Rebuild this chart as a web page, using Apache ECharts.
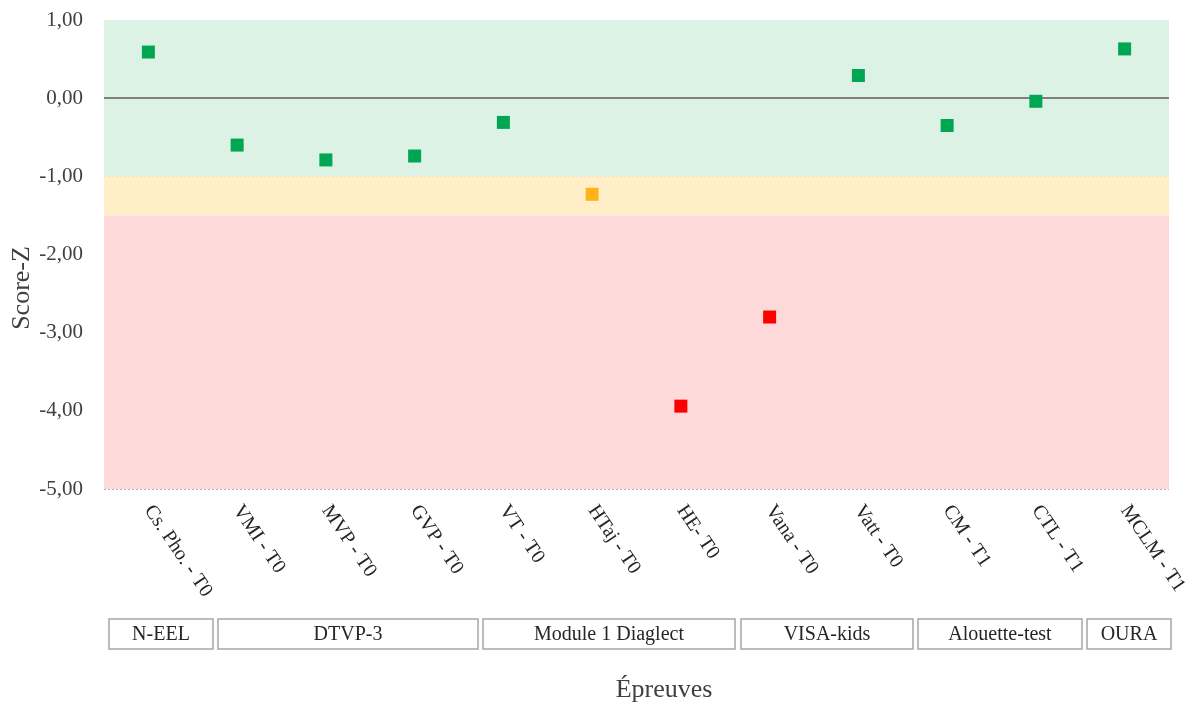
<!DOCTYPE html>
<html>
<head>
<meta charset="utf-8">
<script src="https://cdn.jsdelivr.net/npm/echarts@6/dist/echarts.min.js"></script>
<style>html,body{margin:0;padding:0;background:#fff}#c{width:1193px;height:702px}</style>
</head>
<body>
<div id="c"></div>
<script>
var categories = ['Cs. Pho. - T0','VMI - T0','MVP - T0','GVP - T0','VT - T0','HTaj - T0','HE- T0','Vana - T0','Vatt - T0','CM - T1','CTL - T1','MCLM - T1'];
var scores = [0.59,-0.60,-0.79,-0.74,-0.31,-1.23,-3.94,-2.80,0.29,-0.35,-0.04,0.63];
var yTicks = [1,0,-1,-2,-3,-4,-5];
var groupNames = ['N-EEL','DTVP-3','Module 1 Diaglect','VISA-kids','Alouette-test','OURA'];
var bandLimits = [1,-1,-1.5,-5];

var FONT = '"Liberation Serif","Times New Roman",serif';
var chart = echarts.init(document.getElementById('c'));

function ptColor(v){ return v >= -1 ? '#00A651' : (v >= -1.5 ? '#FFB31A' : '#FF0000'); }

// group box layout (pixel positions of the drawn label boxes)
var boxX = [[109,213],[218,478],[483,735],[741,913],[918,1082],[1087,1171]];
var graphics = [];
groupNames.forEach(function(n,i){
  var x0 = boxX[i][0], x1 = boxX[i][1];
  graphics.push({type:'rect', shape:{x:x0,y:619,width:x1-x0,height:30},
    style:{fill:'#fff',stroke:'#A6A6A6',lineWidth:1.5}});
  graphics.push({type:'text', x:(x0+x1)/2, y:635,
    style:{text:n,fill:'#262626',font:'20px '+FONT,textAlign:'center',textVerticalAlign:'middle'}});
});
graphics.push({type:'text', x:664, y:690, style:{text:'Épreuves', fill:'#404040', font:'26px '+FONT, textAlign:'center', textVerticalAlign:'middle'}});
graphics.push({type:'text', x:22, y:288, rotation:Math.PI/2, style:{text:'Score-Z', fill:'#404040', font:'26px '+FONT, textAlign:'center', textVerticalAlign:'middle'}});

chart.setOption({
  animation:false,
  grid:{left:104,right:24,top:20,bottom:213,containLabel:false},
  xAxis:{type:'category',data:categories,
    axisLine:{show:false},axisTick:{show:false},
    axisLabel:{rotate:-56,interval:0,margin:18,color:'#262626',fontFamily:FONT,fontSize:20}},
  yAxis:{type:'value',min:-5,max:1,interval:1,
    axisLine:{show:false},axisTick:{show:false},
    axisLabel:{margin:21,color:'#404040',fontFamily:FONT,fontSize:21,
      formatter:function(v){return v.toFixed(2).replace('.',',');}},
    splitLine:{show:true,lineStyle:{color:'#B5B5B5',type:[2,2],width:1}}},
  graphic:graphics,
  series:[{
    type:'scatter',symbol:'rect',symbolSize:13,z:5,
    data:scores,
    itemStyle:{opacity:1,color:function(p){return ptColor(p.value);}},
    markArea:{silent:true,z:1,itemStyle:{opacity:1},data:[
      [{yAxis:bandLimits[0],itemStyle:{color:'#DCF2E4'}},{yAxis:bandLimits[1]}],
      [{yAxis:bandLimits[1],itemStyle:{color:'#FFEEC6'}},{yAxis:bandLimits[2]}],
      [{yAxis:bandLimits[2],itemStyle:{color:'#FDDAD9'}},{yAxis:bandLimits[3]}]
    ]},
    markLine:{silent:true,symbol:'none',label:{show:false},
      lineStyle:{color:'#7F7F7F',type:'solid',width:2},
      data:[{yAxis:0}]}
  }]
});
</script>
</body>
</html>
